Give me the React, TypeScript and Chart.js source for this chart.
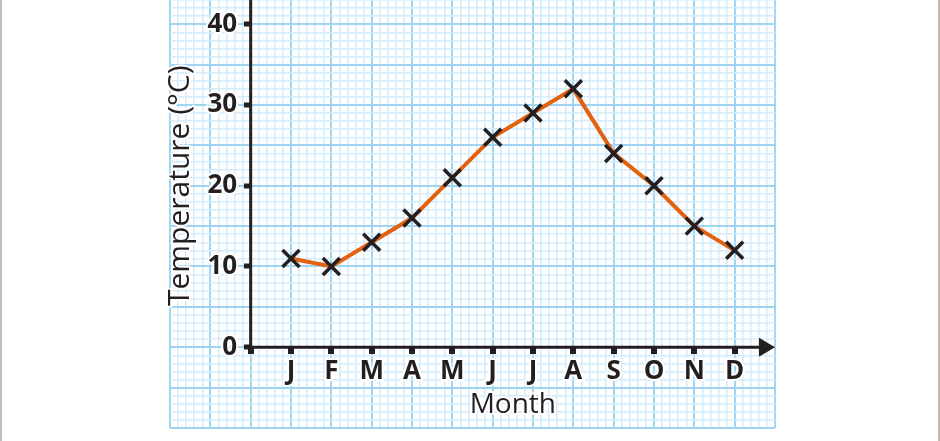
import React, { useEffect, useRef } from 'react';
import { Chart, registerables } from 'chart.js';

Chart.register(...registerables);

// ---- data ----
const months = ['J', 'F', 'M', 'A', 'M', 'J', 'J', 'A', 'S', 'O', 'N', 'D'];
const temperatures = [11, 10, 13, 16, 21, 26, 29, 32, 24, 20, 15, 12];
const yTickValues = [0, 10, 20, 30, 40];
const xTitle = 'Month';
const yTitle = 'Temperature (°C)';

// ---- styles ----
const INK = '#231f20';
const ORANGE = '#e2620f';
const MAJOR = '#a0d4f5';
const MINOR = '#d4ebfb';
const CLEAR = 'rgba(0,0,0,0)';
const FONT = '"Open Sans", "Noto Sans", sans-serif';

const isInt = (v: number) => Math.abs(v - Math.round(v)) < 1e-6;
const isMonthTick = (v: number) => isInt(v) && Math.round(v) >= 1 && Math.round(v) <= months.length;
const isTempTick = (v: number) => isInt(v) && yTickValues.includes(Math.round(v));

const zeroPadding = (s: any) => {
  s.paddingLeft = 0;
  s.paddingRight = 0;
  s.paddingTop = 0;
  s.paddingBottom = 0;
};

const axesPlugin = {
  id: 'axesArrow',
  beforeDatasetsDraw(chart: any) {
    const { ctx, scales } = chart;
    const xs = scales.x;
    const ys = scales.y;
    const x0 = xs.getPixelForValue(0);
    const y0 = ys.getPixelForValue(0);
    const xEnd = xs.getPixelForValue(xs.max);
    const yTop = ys.getPixelForValue(ys.max);
    ctx.save();
    ctx.strokeStyle = INK;
    ctx.fillStyle = INK;
    ctx.lineWidth = 3;
    ctx.lineCap = 'butt';
    ctx.beginPath();
    ctx.moveTo(x0, yTop);
    ctx.lineTo(x0, y0 + 1.5);
    ctx.stroke();
    ctx.beginPath();
    ctx.moveTo(x0 - 1.5, y0);
    ctx.lineTo(xEnd - 12, y0);
    ctx.stroke();
    ctx.beginPath();
    ctx.moveTo(xEnd, y0);
    ctx.lineTo(xEnd - 16, y0 - 9.5);
    ctx.lineTo(xEnd - 16, y0 + 9.5);
    ctx.closePath();
    ctx.fill();
    ctx.restore();
  },
  afterDraw(chart: any) {
    const { ctx, scales } = chart;
    const xs = scales.x;
    const ys = scales.y;
    const x0 = xs.getPixelForValue(0);
    const y0 = ys.getPixelForValue(0);
    ctx.save();
    ctx.fillStyle = INK;
    ctx.strokeStyle = '#ffffff';
    ctx.lineWidth = 4;
    ctx.lineJoin = 'round';
    ctx.textAlign = 'center';
    ctx.textBaseline = 'alphabetic';
    ctx.font = `28px ${FONT}`;
    const mx = xs.getPixelForValue((1 + months.length) / 2);
    const my = y0 + 66;
    ctx.strokeText(xTitle, mx, my);
    ctx.fillText(xTitle, mx, my);
    ctx.font = `30px ${FONT}`;
    ctx.translate(x0 - 62, ys.getPixelForValue(20));
    ctx.rotate(-Math.PI / 2);
    ctx.strokeText(yTitle, 0, 0);
    ctx.fillText(yTitle, 0, 0);
    ctx.restore();
  },
};

export default function App() {
  const ref = useRef<HTMLCanvasElement | null>(null);

  useEffect(() => {
    if (!ref.current) return;
    const chart = new Chart(ref.current, {
      type: 'line',
      data: {
        datasets: [
          {
            data: temperatures.map((t, i) => ({ x: i + 1, y: t })),
            borderColor: ORANGE,
            borderWidth: 4,
            tension: 0,
            pointStyle: 'crossRot',
            pointRadius: 12,
            pointHoverRadius: 12,
            pointBorderColor: INK,
            pointBackgroundColor: INK,
            pointBorderWidth: 3.5,
            clip: false,
          } as any,
        ],
      },
      options: {
        responsive: false,
        animation: false,
        events: [],
        layout: { autoPadding: false, padding: { left: 170, right: 165, top: 0, bottom: 13 } },
        plugins: { legend: { display: false }, tooltip: { enabled: false } },
        scales: {
          x: {
            type: 'linear',
            min: -2,
            max: 13,
            position: { y: 0 } as any,
            border: { display: false },
            grid: {
              z: -1,
              color: (c: any) => (isInt(c.tick.value) ? MAJOR : MINOR),
              lineWidth: (c: any) => (isInt(c.tick.value) ? 2 : 1.5),
              tickColor: (c: any) => {
                const v = c.tick.value;
                return isInt(v) && v >= 0 && v <= months.length ? INK : CLEAR;
              },
              tickWidth: 6,
              tickLength: 7,
            },
            ticks: {
              stepSize: 0.2,
              autoSkip: false,
              maxRotation: 0,
              minRotation: 0,
              padding: 2,
              color: INK,
              font: { family: FONT, size: 26, weight: 'bold' },
              textStrokeColor: '#ffffff',
              textStrokeWidth: 4,
              callback: (v: any) => (isMonthTick(v) ? months[Math.round(v) - 1] : ''),
            },
            afterFit: zeroPadding,
          } as any,
          y: {
            type: 'linear',
            min: -10,
            max: 43,
            position: { x: 0 } as any,
            border: { display: false },
            grid: {
              z: -1,
              color: (c: any) => (Math.round(c.tick.value) % 5 === 0 ? MAJOR : MINOR),
              lineWidth: (c: any) => (Math.round(c.tick.value) % 5 === 0 ? 2 : 1.5),
              tickColor: (c: any) => (isTempTick(c.tick.value) ? INK : CLEAR),
              tickWidth: 5,
              tickLength: 7,
            },
            ticks: {
              stepSize: 1,
              autoSkip: false,
              padding: 5,
              color: INK,
              font: { family: FONT, size: 26, weight: 'bold' },
              textStrokeColor: '#ffffff',
              textStrokeWidth: 4,
              callback: (v: any) => (isTempTick(v) ? String(Math.round(v)) + '  ' : ''),
            },
            afterFit: zeroPadding,
          } as any,
        },
      },
      plugins: [axesPlugin],
    });
    return () => chart.destroy();
  }, []);

  return (
    <div style={{ position: 'fixed', left: 0, top: 0, width: 940, height: 441, background: '#ffffff', overflow: 'hidden' }}>
      <canvas ref={ref} width={940} height={441} style={{ display: 'block', width: 940, height: 441 }} />
      <div style={{ position: 'absolute', left: 0, top: 0, width: 2, height: 441, background: '#c2bbb3' }} />
      <div style={{ position: 'absolute', left: 938, top: 0, width: 2, height: 441, background: '#c2bbb3' }} />
    </div>
  );
}
